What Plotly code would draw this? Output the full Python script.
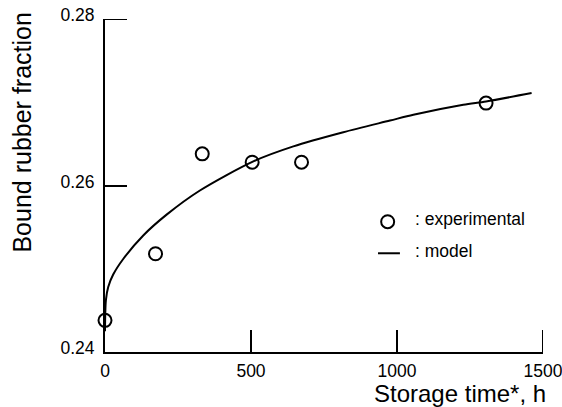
import plotly.graph_objects as go

# Experimental data
exp_time = [0, 173, 333, 504, 673, 1305]
exp_frac = [0.2438, 0.2518, 0.2638, 0.2628, 0.2628, 0.2699]

# Model curve
model_time = [0, 3, 11, 28, 63, 131, 211, 325, 508, 645, 816, 976, 1056, 1227, 1305, 1461]
model_frac = [0.2425, 0.2462, 0.2478, 0.2493, 0.2512, 0.2540, 0.2565, 0.2594, 0.2629,
              0.2647, 0.2664, 0.2678, 0.2685, 0.2697, 0.2701, 0.2711]

x_ticks = [0, 500, 1000, 1500]
y_ticks = [0.24, 0.26, 0.28]

FONT = "Liberation Sans, Arial, sans-serif"
TICKLEN = 22

fig = go.Figure()
fig.add_trace(go.Scatter(x=model_time, y=model_frac, mode="lines",
                         line=dict(color="black", width=2, shape="spline", smoothing=0.8),
                         showlegend=False, hoverinfo="skip"))
fig.add_trace(go.Scatter(x=exp_time, y=exp_frac, mode="markers",
                         marker=dict(symbol="circle-open", size=13, color="black",
                                     line=dict(color="black", width=2)),
                         showlegend=False, cliponaxis=False))

axis_common = dict(showline=True, linecolor="black", linewidth=2, ticks="inside",
                   ticklen=TICKLEN, tickwidth=2, tickcolor="black", showgrid=False,
                   zeroline=False, automargin=False, ticklabeloverflow="allow",
                   tickfont=dict(family=FONT, size=17.5, color="black"))

fig.update_xaxes(range=[x_ticks[0], x_ticks[-1]], tickvals=x_ticks,
                 ticktext=[str(v) for v in x_ticks], ticklabelstandoff=2, **axis_common)
fig.update_yaxes(range=[y_ticks[0], y_ticks[-1]], tickvals=y_ticks,
                 ticktext=["%.2f" % v for v in y_ticks], ticklabelstandoff=5,
                 ticklabelshift=-4, **axis_common)

fig.update_layout(
    width=562, height=407,
    margin=dict(l=105, r=19, t=19, b=55),
    paper_bgcolor="white", plot_bgcolor="white",
    showlegend=False,
    font=dict(family=FONT, color="black"),
)

# End ticks (plotly hides inside ticks at range ends)
fig.add_shape(type="line", xref="x", yref="y", xsizemode="pixel", xanchor=x_ticks[0],
              x0=0, x1=TICKLEN, y0=y_ticks[-1], y1=y_ticks[-1],
              line=dict(color="black", width=2))
fig.add_shape(type="line", xref="x", yref="y", ysizemode="pixel", yanchor=y_ticks[0],
              y0=0, y1=TICKLEN, x0=x_ticks[-1], x1=x_ticks[-1],
              line=dict(color="black", width=2))

# Axis titles
fig.add_annotation(text="Storage time*, h", xref="paper", yref="paper", x=1.0114, y=0,
                   yshift=-41, xanchor="right", yanchor="middle", showarrow=False,
                   font=dict(family=FONT, size=24, color="black"))
fig.add_annotation(text="Bound rubber fraction", xref="paper", yref="paper", x=0, y=0.659,
                   xshift=-83, xanchor="center", yanchor="middle", textangle=-90,
                   showarrow=False, font=dict(family=FONT, size=25, color="black"))

# Legend (drawn manually)
fig.add_shape(type="circle", xref="x", yref="y", xsizemode="pixel", ysizemode="pixel",
              xanchor=968, yanchor=0.25565, x0=-6.5, x1=6.5, y0=-6.5, y1=6.5,
              line=dict(color="black", width=2))
fig.add_shape(type="line", xref="x", yref="y", x0=935, x1=1010, y0=0.25186, y1=0.25186,
              line=dict(color="black", width=2))
fig.add_annotation(text=": experimental", xref="x", yref="y", x=1055, y=0.25601,
                   xanchor="left", yanchor="middle", showarrow=False,
                   font=dict(family=FONT, size=17.5, color="black"))
fig.add_annotation(text=": model", xref="x", yref="y", x=1055, y=0.25208,
                   xanchor="left", yanchor="middle", showarrow=False,
                   font=dict(family=FONT, size=17.5, color="black"))

fig.write_html("out.html")
